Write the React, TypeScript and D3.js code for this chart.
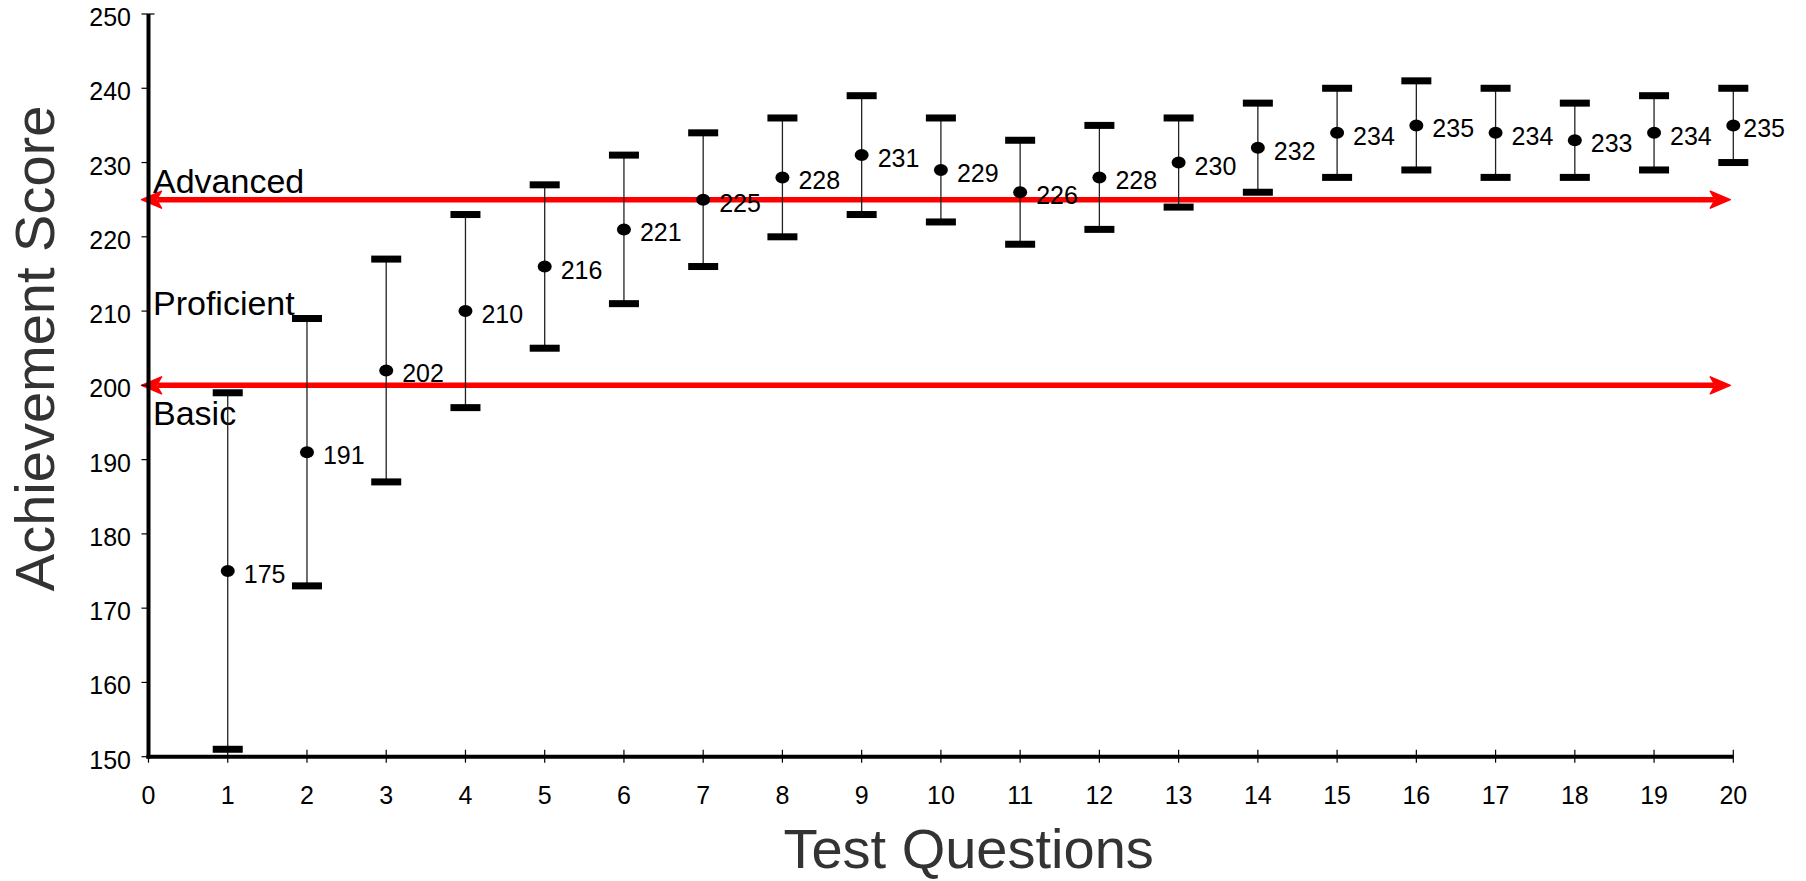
import React from "react";
import * as d3 from "d3";

const questions = [1, 2, 3, 4, 5, 6, 7, 8, 9, 10, 11, 12, 13, 14, 15, 16, 17, 18, 19, 20];
const means = [175, 191, 202, 210, 216, 221, 225, 228, 231, 229, 226, 228, 230, 232, 234, 235, 234, 233, 234, 235];
const uppers = [199, 209, 217, 223, 227, 231, 234, 236, 239, 236, 233, 235, 236, 238, 240, 241, 240, 238, 239, 240];
const lowers = [151, 173, 187, 197, 205, 211, 216, 220, 223, 222, 219, 221, 224, 226, 228, 229, 228, 228, 229, 230];
const xTicks = d3.range(0, 21);
const yTicks = [150, 160, 170, 180, 190, 200, 210, 220, 230, 240, 250];
const levelLines = [225, 200];
const levelLabels = ["Advanced", "Proficient", "Basic"];

const W = 1806;
const H = 881;
const FONT = "'Liberation Sans', Arial, Helvetica, sans-serif";

export default function App() {
  const x = d3.scaleLinear().domain([0, 20]).range([148.5, 1733.3]);
  const y = d3.scaleLinear().domain([150, 250]).range([756.7, 14]);
  const x0 = x(0);
  const y0 = y(150);

  const arrowLen = 20;
  const arrowHalf = 8.5;

  return (
    <svg
      width={W}
      height={H}
      style={{ position: "absolute", left: 0, top: 0, background: "#fff" }}
      fontFamily={FONT}
    >
      <rect x={0} y={0} width={W} height={H} fill="#fff" />

      {/* Level lines with double arrows */}
      {levelLines.map((v) => {
        const yy = y(v);
        const lx = x(0) - 7;
        const rx = x(20) - 3;
        return (
          <g key={v}>
            <line x1={lx + arrowLen - 4} x2={rx - arrowLen + 4} y1={yy} y2={yy} stroke="#ff0000" strokeWidth={5.5} />
            <path
              d={`M${lx},${yy} L${lx + arrowLen},${yy - arrowHalf} L${lx + arrowLen - 5},${yy} L${lx + arrowLen},${yy + arrowHalf} Z`}
              fill="#ff0000"
              stroke="#ff0000"
              strokeWidth={1.5}
              strokeLinejoin="round"
            />
            <path
              d={`M${rx},${yy} L${rx - arrowLen},${yy - arrowHalf} L${rx - arrowLen + 5},${yy} L${rx - arrowLen},${yy + arrowHalf} Z`}
              fill="#ff0000"
              stroke="#ff0000"
              strokeWidth={1.5}
              strokeLinejoin="round"
            />
          </g>
        );
      })}

      {/* Level labels */}
      <text x={153} y={192.7} fontSize={34} fill="#000">{levelLabels[0]}</text>
      <text x={153} y={315} fontSize={34} fill="#000">{levelLabels[1]}</text>
      <text x={153} y={425} fontSize={34} fill="#000">{levelLabels[2]}</text>

      {/* Error bars */}
      {questions.map((q, i) => {
        const cx = x(q);
        const cy = y(means[i]);
        const yu = y(uppers[i]);
        const yl = y(lowers[i]);
        const last = i === questions.length - 1;
        return (
          <g key={q}>
            <line x1={cx} x2={cx} y1={yu} y2={yl} stroke="#222" strokeWidth={1.3} />
            <rect x={cx - 15} y={yu - 3.5} width={30} height={7} fill="#000" />
            <rect x={cx - 15} y={yl - 3.5} width={30} height={7} fill="#000" />
            <ellipse cx={cx} cy={cy} rx={7} ry={6} fill="#000" />
            <text x={cx + (last ? 10 : 16)} y={cy + 12} fontSize={25} fill="#000">
              {means[i]}
            </text>
          </g>
        );
      })}

      {/* Y axis */}
      <line x1={x0} x2={x0} y1={y(250)} y2={y0 + 2} stroke="#000" strokeWidth={4} />
      {yTicks.map((t) => (
        <g key={t}>
          <line x1={x0 - 7} x2={x0} y1={y(t)} y2={y(t)} stroke="#000" strokeWidth={1.2} />
          <text x={131} y={y(t) + 12} fontSize={25} textAnchor="end" fill="#000">
            {t}
          </text>
        </g>
      ))}
      <line x1={x0} x2={x0 + 6} y1={y(250)} y2={y(250)} stroke="#000" strokeWidth={1.2} />

      {/* X axis */}
      <line x1={x0 - 2} x2={x(20)} y1={y0} y2={y0} stroke="#000" strokeWidth={4} />
      {xTicks.map((t) => (
        <g key={t}>
          <line x1={x(t)} x2={x(t)} y1={y0 - 7} y2={y0 + 6} stroke="#000" strokeWidth={1.2} />
          <text x={x(t)} y={804} fontSize={25} textAnchor="middle" fill="#000">
            {t}
          </text>
        </g>
      ))}

      {/* Axis titles */}
      <text x={968.6} y={868} fontSize={56} textAnchor="middle" fill="#333">
        Test Questions
      </text>
      <text
        transform={`translate(54,348.4) rotate(-90)`}
        fontSize={56}
        textAnchor="middle"
        fill="#333"
      >
        Achievement Score
      </text>
    </svg>
  );
}
